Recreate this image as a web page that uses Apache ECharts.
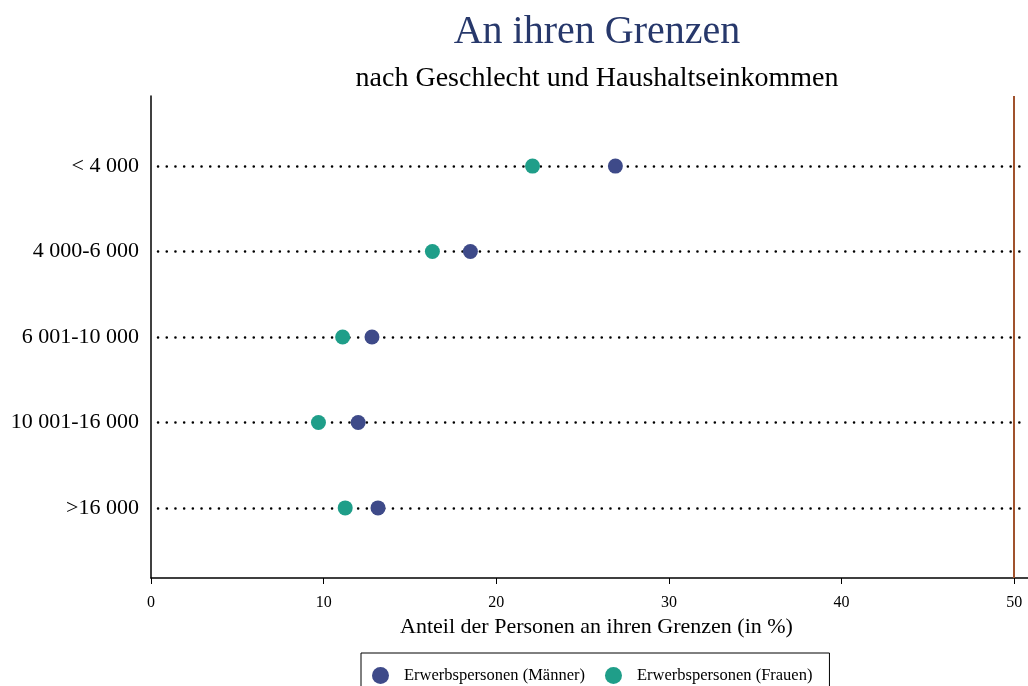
<!DOCTYPE html>
<html>
<head>
<meta charset="utf-8">
<script src="https://cdn.jsdelivr.net/npm/echarts@6/dist/echarts.min.js"></script>
<style>html,body{margin:0;padding:0;background:#fff}#c{width:1028px;height:686px}</style>
</head>
<body>
<div id="c"></div>
<script>
const categories = ['< 4 000', '4 000-6 000', '6 001-10 000', '10 001-16 000', '>16 000'];
const men = [26.9, 18.5, 12.8, 12.0, 13.15];
const women = [22.1, 16.3, 11.1, 9.7, 11.25];
const xTicks = [0, 10, 20, 30, 40, 50];
const seriesNames = ['Erwerbspersonen (Männer)', 'Erwerbspersonen (Frauen)'];
const refLine = 50;

const font = 'Liberation Serif, Times New Roman, serif';
const chart = echarts.init(document.getElementById('c'));
const idx = categories.map((_, i) => i);
chart.setOption({
  animation: false,
  title: [
    {text: 'An ihren Grenzen', left: 592, top: 7, textAlign: 'center',
     textStyle: {fontFamily: font, fontSize: 40, fontWeight: 'normal', color: '#27386b'}},
    {text: 'nach Geschlecht und Haushaltseinkommen', left: 592, top: 60, textAlign: 'center',
     textStyle: {fontFamily: font, fontSize: 28, fontWeight: 'normal', color: '#000'}}
  ],
  grid: {left: 151, right: 0, top: 96, bottom: 108, containLabel: false},
  legend: {
    data: seriesNames, left: 361, top: 653,
    orient: 'horizontal', itemWidth: 17, itemHeight: 17, itemGap: 20,
    borderColor: '#000', borderWidth: 1, padding: [14, 17, 14, 11],
    textStyle: {fontFamily: font, fontSize: 16.5, color: '#000', padding: [0, 0, 0, 10]},
    icon: 'circle'
  },
  xAxis: {
    type: 'value', min: 0, max: 50.8,
    name: 'Anteil der Personen an ihren Grenzen (in %)',
    nameLocation: 'middle', nameGap: 32,
    nameTextStyle: {fontFamily: font, fontSize: 22, color: '#000', padding: [0, 0, 0, 14]},
    axisLine: {show: true, onZero: false, lineStyle: {color: '#000', width: 1.5}},
    axisTick: {show: true, length: 6, lineStyle: {color: '#000'}, customValues: xTicks},
    axisLabel: {fontFamily: font, fontSize: 16, color: '#000', customValues: xTicks, margin: 17},
    splitLine: {show: false}
  },
  yAxis: {
    type: 'value', inverse: true, min: -0.82, max: 4.82,
    axisLine: {show: true, onZero: false, lineStyle: {color: '#000', width: 1.5}},
    axisTick: {show: false},
    axisLabel: {fontFamily: font, fontSize: 22, color: '#000', margin: 12,
      customValues: idx, formatter: v => categories[Math.round(v)]},
    splitLine: {show: false}
  },
  series: [
    {
      name: 'guides', type: 'scatter', data: [], silent: true,
      markLine: {
        silent: true, symbol: 'none', label: {show: false},
        lineStyle: {color: '#000', width: 2.5, type: [0.1, 8.6], dashOffset: -7, cap: 'round'},
        data: idx.map(i => ({yAxis: i}))
      }
    },
    {
      name: 'ref', type: 'scatter', data: [], silent: true,
      markLine: {
        silent: true, symbol: 'none', label: {show: false},
        lineStyle: {color: '#a0522d', width: 2, type: 'solid'},
        data: [{xAxis: refLine}]
      }
    },
    {
      name: seriesNames[1], type: 'scatter', symbolSize: 15, z: 5,
      itemStyle: {color: '#1f9e89', opacity: 1},
      data: women.map((v, i) => [v, i])
    },
    {
      name: seriesNames[0], type: 'scatter', symbolSize: 15, z: 5,
      itemStyle: {color: '#3e4a89', opacity: 1},
      data: men.map((v, i) => [v, i])
    }
  ]
});
</script>
</body>
</html>
